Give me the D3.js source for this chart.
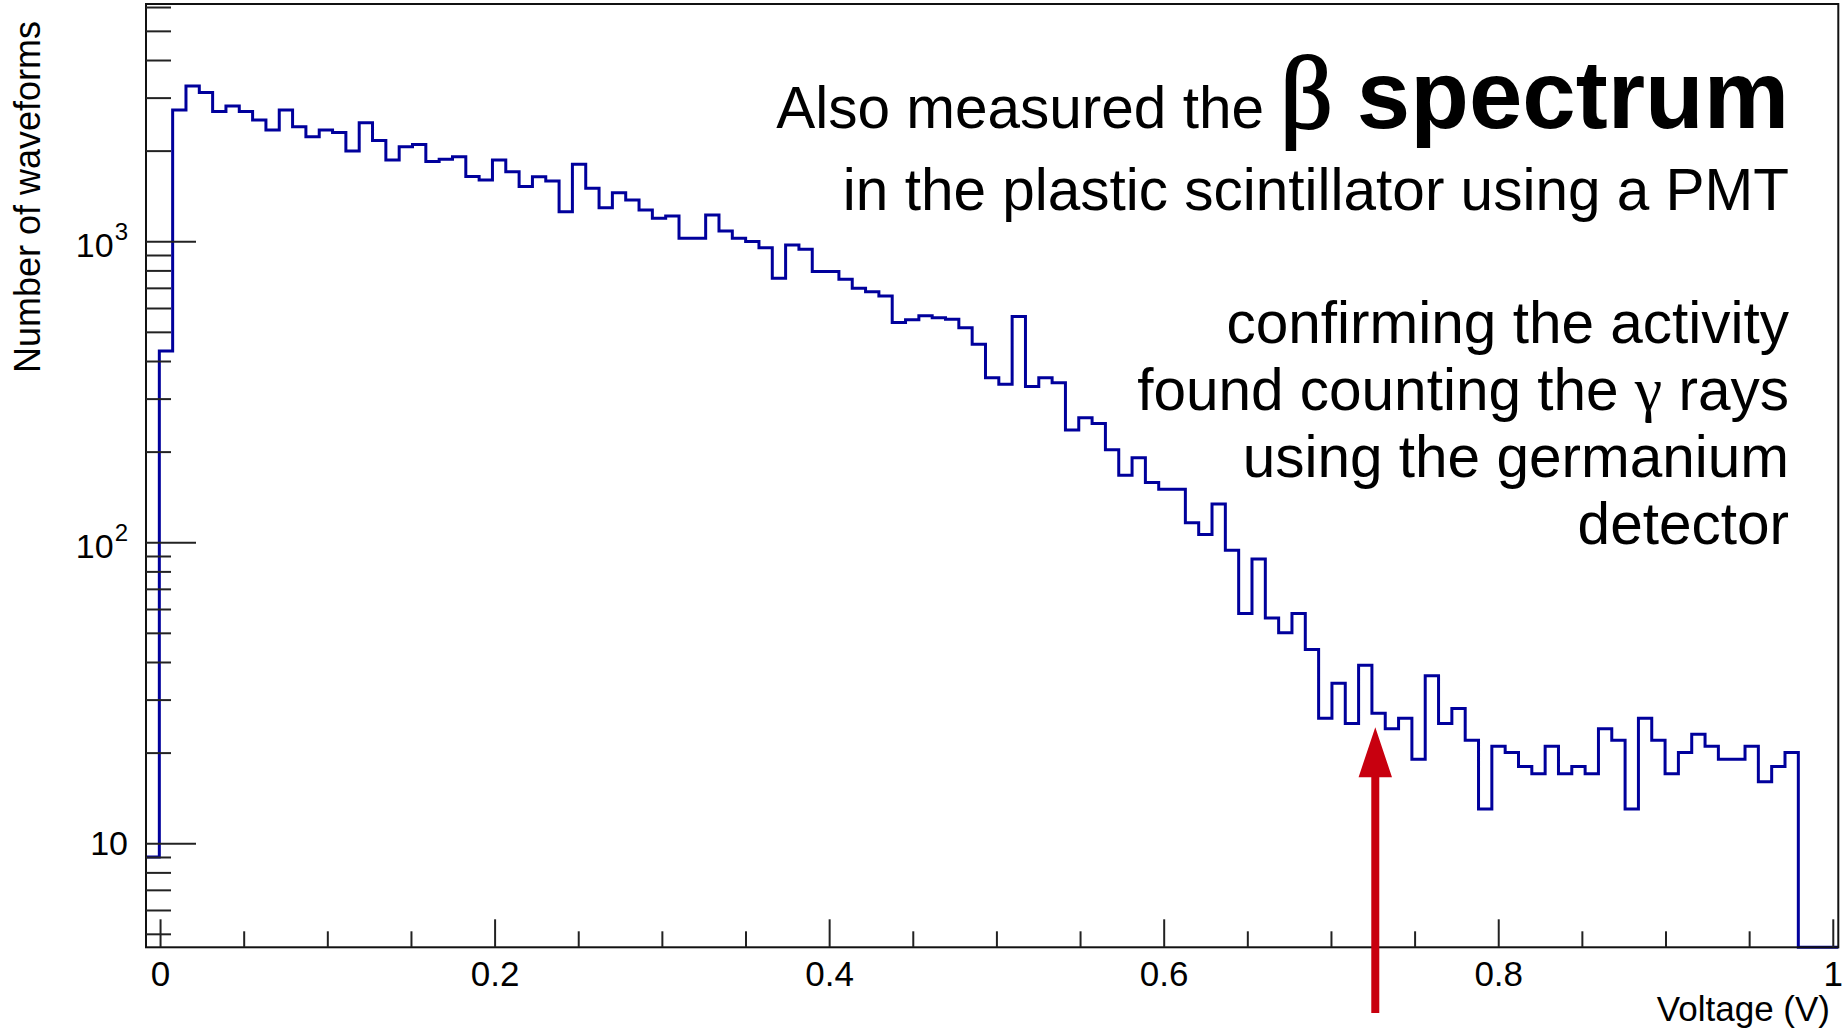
<!DOCTYPE html>
<html>
<head>
<meta charset="utf-8">
<script src="https://cdn.jsdelivr.net/npm/d3@7"></script>
<style>
  html, body { margin: 0; padding: 0; background: #fff; }
  svg { display: block; font-family: "Liberation Sans", Arial, sans-serif; }
</style>
</head>
<body>
<div id="chart"></div>
<script>
// histogram range (V) and number of bins
const X_MIN = -0.0084;
const X_MAX = 1.0033;
const N_BINS = 127;

// y range of the log axis
const Y_MIN = 4.51;
const Y_MAX = 6140;

// counts per bin
const counts = [
  9, 432, 2731, 3281, 3117, 2696, 2815, 2696, 2529, 2343,
  2731, 2403, 2226, 2343, 2296, 1995, 2477, 2159, 1863, 2062,
  2094, 1839, 1873, 1910, 1642, 1598, 1863, 1703, 1519, 1639,
  1586, 1254, 1803, 1500, 1293, 1450, 1372, 1271, 1193, 1214,
  1023, 1023, 1223, 1082, 1023, 997, 952, 754, 972, 941,
  793, 793, 748, 698, 680, 658, 537, 548, 565, 557,
  551, 516, 455, 352, 335, 562, 329, 352, 339, 236,
  259, 248, 203, 167, 191, 158, 150, 150, 116, 106,
  134, 94, 58, 88, 56, 50, 58, 44, 26, 34,
  25, 39, 27, 24, 26, 19, 36, 25, 28, 22,
  13, 21, 20, 18, 17, 21, 17, 18, 17, 24,
  22, 13, 26, 22, 17, 20, 23, 21, 19, 19,
  21, 16, 18, 20, 0, 0, 0
];

// axis ticks
const xMajorTicks = [0, 0.2, 0.4, 0.6, 0.8, 1];
const xTickLabels = ['0', '0.2', '0.4', '0.6', '0.8', '1'];
const xMinorTicks = [0.05, 0.1, 0.15, 0.25, 0.3, 0.35, 0.45, 0.5, 0.55, 0.65, 0.7, 0.75, 0.85, 0.9, 0.95];
const yMajorTicks = [10, 100, 1000];
const yTickExponents = ['', '2', '3'];
const yMinorTicks = [5, 6, 7, 8, 9, 20, 30, 40, 50, 60, 70, 80, 90,
  200, 300, 400, 500, 600, 700, 800, 900, 2000, 3000, 4000, 5000, 6000];

const xTitle = 'Voltage (V)';
const yTitle = 'Number of waveforms';

// annotation text on the right
const headLine = ['Also measured the', 'β', 'spectrum'];
const noteLines = [
  'in the plastic scintillator using a PMT',
  'confirming the activity',
  ['found counting the ', 'γ', ' rays'],
  'using the germanium',
  'detector'
];
const noteBaselines = [210, 343, 410, 477, 544];

// red arrow
const ARROW_V = 0.7265;
const ARROW_TIP = 24.3;

const W = 1843, H = 1032;
const margin = { top: 4, right: 4.7, bottom: 84.7, left: 146 };
const plotW = W - margin.left - margin.right;
const plotH = H - margin.top - margin.bottom;

const svg = d3.select('#chart').append('svg')
  .attr('width', W)
  .attr('height', H);

const x = d3.scaleLinear().domain([X_MIN, X_MAX]).range([margin.left, margin.left + plotW]);
const y = d3.scaleLog().domain([Y_MIN, Y_MAX]).range([margin.top + plotH, margin.top]);
const yBottom = margin.top + plotH;

const binW = (X_MAX - X_MIN) / N_BINS;
const pts = counts.map((c, i) => [X_MIN + i * binW, c]);
pts.push([X_MAX, counts[counts.length - 1]]);

// histogram outline
const line = d3.line()
  .x(d => x(d[0]))
  .y(d => d[1] > 0 ? y(d[1]) : yBottom)
  .curve(d3.curveStepAfter);

svg.append('path')
  .datum(pts)
  .attr('d', line)
  .attr('fill', 'none')
  .attr('stroke', '#00009c')
  .attr('stroke-width', 3);

// frame
svg.append('rect')
  .attr('x', margin.left)
  .attr('y', margin.top)
  .attr('width', plotW)
  .attr('height', plotH)
  .attr('fill', 'none')
  .attr('stroke', '#111')
  .attr('stroke-width', 2);

// x axis
const xAxisG = svg.append('g').attr('transform', `translate(0,${yBottom})`);
xAxisG.call(d3.axisBottom(x).tickValues(xMajorTicks)
  .tickSizeInner(-28).tickSizeOuter(0).tickPadding(14)
  .tickFormat((d, i) => xTickLabels[i]));
xAxisG.append('g').call(d3.axisBottom(x).tickValues(xMinorTicks)
  .tickSizeInner(-16).tickSizeOuter(0).tickFormat(''));
xAxisG.selectAll('.domain').remove();
xAxisG.selectAll('line').attr('stroke', '#222').attr('stroke-width', 2);
xAxisG.selectAll('text')
  .attr('font-size', 35)
  .attr('font-family', '"Liberation Sans", Arial, sans-serif')
  .attr('fill', '#000');

// y axis
const yAxisG = svg.append('g').attr('transform', `translate(${margin.left},0)`);
yAxisG.call(d3.axisLeft(y).tickValues(yMajorTicks)
  .tickSizeInner(-50).tickSizeOuter(0).tickFormat(''));
yAxisG.append('g').call(d3.axisLeft(y).tickValues(yMinorTicks)
  .tickSizeInner(-25).tickSizeOuter(0).tickFormat(''));
yAxisG.selectAll('.domain').remove();
yAxisG.selectAll('line').attr('stroke', '#222').attr('stroke-width', 2);

yMajorTicks.forEach((v, i) => {
  const exp = yTickExponents[i];
  const t = svg.append('text')
    .attr('x', 128)
    .attr('y', y(v) + (exp ? 16 : 12))
    .attr('text-anchor', 'end')
    .attr('font-size', 34)
    .attr('fill', '#000');
  t.append('tspan').text('10');
  if (exp) {
    t.append('tspan').attr('dy', -17).attr('dx', 1).attr('font-size', 24).text(exp);
  }
});

// axis titles
svg.append('text')
  .attr('x', 1830)
  .attr('y', 1021)
  .attr('text-anchor', 'end')
  .attr('font-size', 35)
  .text(xTitle);

svg.append('text')
  .attr('transform', 'translate(40,21) rotate(-90)')
  .attr('text-anchor', 'end')
  .attr('font-size', 36)
  .text(yTitle);

// annotation
const note = svg.append('g').attr('fill', '#000');
note.append('text')
  .attr('x', 1264).attr('y', 127.5)
  .attr('text-anchor', 'end')
  .attr('font-size', 58.5)
  .text(headLine[0]);
note.append('text')
  .attr('x', 1280).attr('y', 127.5)
  .attr('font-family', '"Liberation Serif", "DejaVu Serif", serif')
  .attr('font-size', 104)
  .attr('stroke', '#000')
  .attr('stroke-width', 2)
  .text(headLine[1]);
note.append('text')
  .attr('x', 1789).attr('y', 127.5)
  .attr('text-anchor', 'end')
  .attr('font-weight', 'bold')
  .attr('font-size', 96)
  .text(headLine[2]);

noteLines.forEach((ln, i) => {
  const t = note.append('text')
    .attr('x', 1789)
    .attr('y', noteBaselines[i])
    .attr('text-anchor', 'end')
    .attr('font-size', 58.5);
  if (Array.isArray(ln)) {
    t.append('tspan').text(ln[0]);
    t.append('tspan')
      .attr('font-family', '"Liberation Serif", "DejaVu Serif", serif')
      .attr('font-size', 62)
      .text(ln[1]);
    t.append('tspan').text(ln[2]);
  } else {
    t.text(ln);
  }
});

// red arrow pointing at the spectrum
const ax = x(ARROW_V);
const tipY = y(ARROW_TIP);
const headLen = 50, headHalf = 16.7, shaftHalf = 4;
const tailY = H - 19;
svg.append('path')
  .attr('d', `M${ax},${tipY} L${ax + headHalf},${tipY + headLen} L${ax + shaftHalf},${tipY + headLen}
    L${ax + shaftHalf},${tailY} L${ax - shaftHalf},${tailY} L${ax - shaftHalf},${tipY + headLen}
    L${ax - headHalf},${tipY + headLen} Z`)
  .attr('fill', '#c8000f');
</script>
</body>
</html>
